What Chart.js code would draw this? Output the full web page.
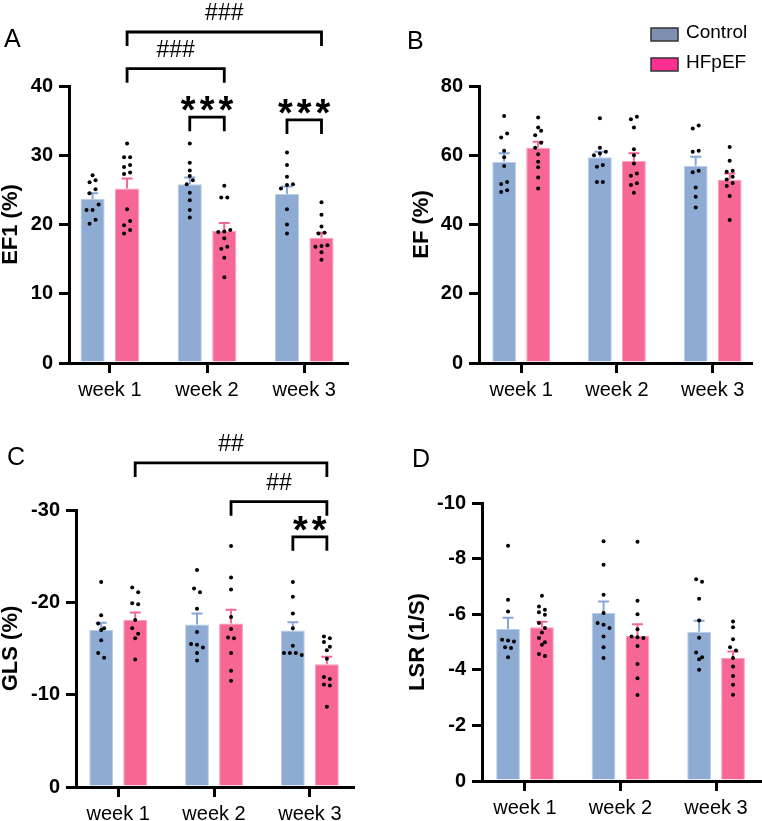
<!DOCTYPE html>
<html>
<head>
<meta charset="utf-8">
<script src="https://cdn.jsdelivr.net/npm/chart.js@4"></script>
<style>
  body { margin: 0; background: #fff; }
  #wrap { position: relative; width: 762px; height: 821px; }
  canvas { position: absolute; }
</style>
</head>
<body>
<div id="wrap">
  <canvas id="panelA" width="381" height="410" style="left:0;top:0"></canvas>
  <canvas id="panelB" width="381" height="410" style="left:381px;top:0"></canvas>
  <canvas id="panelC" width="381" height="411" style="left:0;top:410px"></canvas>
  <canvas id="panelD" width="381" height="411" style="left:381px;top:410px"></canvas>
</div>
<script>
const weeks = ["week 1", "week 2", "week 3"];
const groups = ["Control", "HFpEF"];

// A - EF1 (%)
const ef1ControlMean = [23.7, 25.8, 24.4];
const ef1ControlSem = [0.8, 1.0, 1.1];
const ef1HfpefMean = [25.2, 19.1, 18.1];
const ef1HfpefSem = [1.45, 1.1, 0.7];
const ef1ControlDots = [
  [27.1, 26.4, 26.1, 25.1, 24.5, 22.9, 22.1, 22.1, 20.7, 20.1],
  [31.7, 28.9, 27.8, 27.0, 26.4, 25.8, 24.6, 23.5, 22.1, 21.0],
  [30.4, 28.6, 26.9, 25.8, 25.7, 25.2, 22.2, 20.0, 18.7]
];
const ef1HfpefDots = [
  [31.7, 29.7, 29.7, 28.6, 28.3, 27.5, 27.3, 22.2, 20.5, 19.9, 19.2, 18.7],
  [25.6, 23.9, 23.9, 19.2, 19.0, 18.9, 18.0, 16.8, 16.5, 15.2, 12.4],
  [23.2, 21.4, 19.7, 18.8, 18.7, 17.0, 16.9, 16.8, 16.0, 14.9]
];
// [week from, group from, week to, group to, level, label]
const ef1Brackets = [
  [0, 1, 2, 1, 47.8, "###"],
  [0, 1, 1, 1, 42.5, "###"],
  [1, 0, 1, 1, 35.5, "***"],
  [2, 0, 2, 1, 35.1, "***"]
];

// B - EF (%)
const efControlMean = [58.1, 59.4, 57.0];
const efControlSem = [2.5, 1.6, 2.6];
const efHfpefMean = [62.2, 58.4, 52.9];
const efHfpefSem = [1.7, 2.2, 1.8];
const efControlDots = [
  [71.3, 66.3, 65.1, 61.3, 59.4, 56.9, 52.3, 51.7, 49.9, 49.4],
  [70.7, 62.2, 61.0, 60.5, 60.0, 57.2, 56.7, 52.3, 52.3],
  [68.6, 67.7, 61.3, 61.0, 55.5, 55.1, 50.7, 48.0, 44.9]
];
const efHfpefDots = [
  [70.9, 68.0, 67.1, 65.8, 63.6, 62.2, 60.3, 58.1, 56.5, 53.6, 50.4],
  [71.1, 70.4, 68.0, 61.7, 60.0, 57.6, 54.7, 54.1, 51.9, 51.4, 49.2],
  [62.4, 58.4, 55.5, 55.2, 53.8, 53.0, 52.0, 51.1, 48.2, 41.3]
];

// C - GLS (%)
const glsControlMean = [-17.0, -17.6, -16.95];
const glsControlSem = [-0.8, -1.2, -0.9];
const glsHfpefMean = [-18.1, -17.7, -13.3];
const glsHfpefSem = [-0.8, -1.5, -0.8];
const glsControlDots = [
  [-22.2, -18.6, -17.7, -17.2, -17.0, -15.9, -14.5, -14.0],
  [-23.5, -21.5, -21.1, -19.3, -16.8, -15.5, -15.4, -15.1, -14.5, -13.7],
  [-22.2, -20.6, -18.8, -17.2, -15.3, -14.5, -14.5, -14.5, -14.3]
];
const glsHfpefDots = [
  [-21.6, -21.1, -19.9, -19.8, -18.1, -17.2, -16.6, -16.1, -13.8],
  [-26.1, -22.7, -21.4, -18.4, -17.1, -16.2, -16.1, -14.5, -12.6, -11.5],
  [-16.3, -16.1, -15.7, -15.2, -14.8, -13.9, -11.9, -11.7, -11.1, -11.0, -8.7]
];
const glsBrackets = [
  [0, 1, 2, 1, -35.1, "##"],
  [1, 1, 2, 1, -30.9, "##"],
  [2, 0, 2, 1, -27.1, "**"]
];

// D - LSR (1/S)
const lsrControlMean = [-5.47, -6.04, -5.37];
const lsrControlSem = [-0.4, -0.42, -0.39];
const lsrHfpefMean = [-5.53, -5.22, -4.42];
const lsrHfpefSem = [-0.2, -0.42, -0.24];
const lsrControlDots = [
  [-8.46, -6.52, -6.10, -5.08, -5.05, -5.02, -4.81, -4.78, -4.45],
  [-8.62, -7.78, -6.70, -6.04, -5.68, -5.62, -5.50, -5.20, -4.81, -4.42],
  [-7.26, -7.17, -6.56, -5.77, -5.15, -4.62, -4.45, -4.38, -4.00]
];
const lsrHfpefDots = [
  [-6.66, -6.28, -6.16, -6.07, -5.98, -5.68, -5.50, -5.34, -5.14, -4.99, -4.90, -4.57, -4.50],
  [-8.61, -6.48, -6.00, -5.46, -5.20, -5.17, -5.14, -4.86, -4.21, -3.70, -3.09],
  [-5.74, -5.53, -5.10, -4.81, -4.69, -4.42, -4.12, -3.78, -3.46, -3.10]
];

const FONT = "'Liberation Sans', Arial, sans-serif";
const barColors = ["#8eabd4", "#f76795"];
const barEdges = ["#b9cce8", "#fa9dbb"];
const errColors = ["#87a7dc", "#f2689a"];
const legendColors = ["#7d90b0", "#ff2e93"];
const CAT_PCT = 0.71;
const SHIFT = CAT_PCT / 4;

// spread dots with near-equal values sideways (graphpad style)
function swarm(vals, center, tol, step) {
  const sorted = vals.slice().sort((a, b) => a - b);
  const pts = [];
  let row = [];
  const flush = () => {
    row.forEach((v, k) => pts.push({ x: center + (k - (row.length - 1) / 2) * step, y: v }));
    row = [];
  };
  sorted.forEach(v => {
    if (row.length && Math.abs(v - row[0]) > tol) flush();
    row.push(v);
  });
  flush();
  return pts;
}

const errorBars = {
  id: "errorBars",
  beforeDatasetsDraw(chart, args, opts) {
    const { ctx, scales: { y } } = chart;
    ctx.save();
    ctx.lineWidth = 2;
    [0, 1].forEach(g => {
      const meta = chart.getDatasetMeta(g);
      const ds = chart.data.datasets[g];
      ctx.strokeStyle = errColors[g];
      meta.data.forEach((bar, i) => {
        const top = y.getPixelForValue(ds.data[i].y + opts.sem[g][i]);
        ctx.beginPath();
        ctx.moveTo(bar.x, bar.y);
        ctx.lineTo(bar.x, top);
        ctx.moveTo(bar.x - 5.5, top);
        ctx.lineTo(bar.x + 5.5, top);
        ctx.stroke();
      });
    });
    ctx.restore();
  }
};

const extras = {
  id: "extras",
  afterDraw(chart, args, opts) {
    const { ctx, scales: { y } } = chart;
    ctx.save();
    ctx.fillStyle = "#000";
    ctx.textBaseline = "alphabetic";
    // panel letter
    ctx.font = "25px " + FONT;
    ctx.textAlign = "left";
    ctx.fillText(opts.letter[0], opts.letter[1], opts.letter[2]);
    // significance brackets
    ctx.strokeStyle = "#000";
    ctx.lineWidth = 2.8;
    (opts.brackets || []).forEach(([w1, g1, w2, g2, level, label]) => {
      const x1 = chart.getDatasetMeta(g1).data[w1].x;
      const x2 = chart.getDatasetMeta(g2).data[w2].x;
      const yy = y.getPixelForValue(level);
      ctx.beginPath();
      ctx.moveTo(x1, yy + 14);
      ctx.lineTo(x1, yy);
      ctx.lineTo(x2, yy);
      ctx.lineTo(x2, yy + 14);
      ctx.stroke();
      ctx.textAlign = "center";
      if (label[0] === "#") {
        ctx.font = "23px " + FONT;
        ctx.fillText(label, (x1 + x2) / 2, yy - 12);
      } else {
        ctx.font = "bold 38px " + FONT;
        ctx.letterSpacing = "4px";
        ctx.fillText(label, (x1 + x2) / 2 + 2, yy + 6);
        ctx.letterSpacing = "0px";
      }
    });
    // legend
    if (opts.legend) {
      ctx.font = "19px " + FONT;
      ctx.textAlign = "left";
      ctx.lineWidth = 1.5;
      ctx.strokeStyle = "#333";
      groups.forEach((name, g) => {
        const by = 28 + g * 30;
        ctx.fillStyle = legendColors[g];
        ctx.fillRect(270, by, 27, 13);
        ctx.strokeRect(270, by, 27, 13);
        ctx.fillStyle = "#000";
        ctx.fillText(name, 305, by + 10);
      });
    }
    ctx.restore();
  }
};

function panel(id, o) {
  const range = o.yMax - o.yMin;
  const tol = range * 0.02;
  const ctrlPts = o.ctrlDots.flatMap((vals, i) => swarm(vals, i - SHIFT, tol, 0.062));
  const hfPts = o.hfDots.flatMap((vals, i) => swarm(vals, i + SHIFT, tol, 0.062));
  const canvas = document.getElementById(id);
  const H = canvas.height;
  const dotStyle = { type: "scatter", pointRadius: 2, pointHoverRadius: 2, pointBackgroundColor: "#000", pointBorderWidth: 0, order: 0 };

  new Chart(canvas, {
    type: "bar",
    data: {
      datasets: [
        { label: groups[0], data: o.ctrlMean.map((v, i) => ({ x: i, y: v })), backgroundColor: barColors[0], borderColor: barEdges[0], borderWidth: 1, order: 1 },
        { label: groups[1], data: o.hfMean.map((v, i) => ({ x: i, y: v })), backgroundColor: barColors[1], borderColor: barEdges[1], borderWidth: 1, order: 1 },
        Object.assign({ data: ctrlPts }, dotStyle),
        Object.assign({ data: hfPts }, dotStyle)
      ]
    },
    options: {
      responsive: false,
      animation: false,
      events: [],
      layout: { padding: { left: o.padLeft, top: o.top, right: canvas.width - o.right, bottom: 0 } },
      datasets: { bar: { categoryPercentage: CAT_PCT, barPercentage: 0.7 } },
      scales: {
        x: {
          type: "linear",
          offset: false,
          min: o.xMin,
          max: o.xMax,
          afterBuildTicks: s => { s.ticks = weeks.map((w, i) => ({ value: i })); },
          afterFit: s => { s.height = H - o.bottom; },
          ticks: { callback: v => weeks[v], color: "#000", font: { family: FONT, size: 20 }, padding: 5, maxRotation: 0, autoSkip: false },
          grid: { offset: false, drawOnChartArea: false, tickLength: 10, lineWidth: 3, color: "#000" },
          border: { width: 3, color: "#000" }
        },
        y: {
          min: o.yMin,
          max: o.yMax,
          reverse: o.reverse,
          afterFit: s => { s.width = o.left - o.padLeft; },
          ticks: { stepSize: o.step, color: "#000", font: { family: FONT, size: 20, weight: "bold" }, padding: 6 },
          grid: { drawOnChartArea: false, tickLength: 10, lineWidth: 3, color: "#000" },
          border: { width: 3, color: "#000" },
          title: { display: true, text: o.title, color: "#000", font: { family: FONT, size: 22, weight: "bold", lineHeight: 1 }, padding: 0 }
        }
      },
      plugins: {
        legend: { display: false },
        tooltip: { enabled: false },
        errorBars: { sem: [o.ctrlSem, o.hfSem] },
        extras: { letter: o.letter, brackets: o.brackets, legend: o.legend }
      }
    },
    plugins: [errorBars, extras]
  });
}

panel("panelA", {
  title: "EF1 (%)", letter: ["A", 4, 47],
  ctrlMean: ef1ControlMean, ctrlSem: ef1ControlSem, hfMean: ef1HfpefMean, hfSem: ef1HfpefSem,
  ctrlDots: ef1ControlDots, hfDots: ef1HfpefDots, brackets: ef1Brackets,
  yMin: 0, yMax: 40, step: 10, reverse: false,
  padLeft: 0, left: 69, right: 347, top: 86, bottom: 363, xMin: -0.42, xMax: 2.44
});

panel("panelB", {
  title: "EF (%)", letter: ["B", 26, 49], legend: true,
  ctrlMean: efControlMean, ctrlSem: efControlSem, hfMean: efHfpefMean, hfSem: efHfpefSem,
  ctrlDots: efControlDots, hfDots: efHfpefDots,
  yMin: 0, yMax: 80, step: 20, reverse: false,
  padLeft: 30, left: 98, right: 370, top: 86, bottom: 363, xMin: -0.44, xMax: 2.40
});

panel("panelC", {
  title: "GLS (%)", letter: ["C", 7, 55],
  ctrlMean: glsControlMean, ctrlSem: glsControlSem, hfMean: glsHfpefMean, hfSem: glsHfpefSem,
  ctrlDots: glsControlDots, hfDots: glsHfpefDots, brackets: glsBrackets,
  yMin: -30, yMax: 0, step: 10, reverse: true,
  padLeft: 0, left: 76, right: 353, top: 100, bottom: 377, xMin: -0.44, xMax: 2.45
});

panel("panelD", {
  title: "LSR (1/S)", letter: ["D", 31, 57],
  ctrlMean: lsrControlMean, ctrlSem: lsrControlSem, hfMean: lsrHfpefMean, hfSem: lsrHfpefSem,
  ctrlDots: lsrControlDots, hfDots: lsrHfpefDots,
  yMin: -10, yMax: 0, step: 2, reverse: true,
  padLeft: 26, left: 101, right: 380, top: 93, bottom: 371, xMin: -0.45, xMax: 2.46
});
</script>
</body>
</html>
